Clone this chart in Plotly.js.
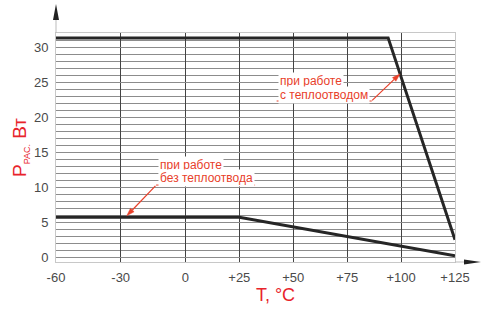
<!DOCTYPE html>
<html>
<head>
<meta charset="utf-8">
<script src="https://cdn.plot.ly/plotly-3.0.1.min.js"></script>
<style>html,body{margin:0;padding:0;background:#fff;}#chart{width:486px;height:311px;}</style>
</head>
<body>
<div id="chart"></div>
<script>
// Data
const tempWithSink = [-60, 94, 125];
const powerWithSink = [31.4, 31.4, 2.5];
const tempNoSink = [-60, 25, 125];
const powerNoSink = [5.7, 5.7, 0.2];
const xTickVals = [-60, -30, 0, 25, 50, 75, 100, 125];
const xTickText = ['-60', '-30', '0', '+25', '+50', '+75', '+100', '+125'];
const yTickVals = [0, 5, 10, 15, 20, 25, 30];
const yTickText = ['0', '5', '10', '15', '20', '25', '30'];
const labelNoSink = ['при работе', 'без теплоотвода'];
const labelWithSink = ['при работе', 'с теплоотводом'];

const RED = '#e8402a';
const TITLE_RED = '#e8232b';
const FONT = 'Liberation Sans, Arial, sans-serif';

const traces = [
  {x: tempWithSink, y: powerWithSink, mode: 'lines', line: {color: '#262626', width: 3}, hoverinfo: 'skip'},
  {x: tempNoSink, y: powerNoSink, mode: 'lines', line: {color: '#262626', width: 3}, hoverinfo: 'skip'}
];

const annFont = {family: FONT, size: 12, color: RED};
const annotations = [
  {xref: 'x', yref: 'y', x: -12.7, y: 13.19, text: labelNoSink[0], showarrow: false, xanchor: 'left', yanchor: 'middle', font: annFont, bgcolor: '#fff', borderpad: 1},
  {xref: 'x', yref: 'y', x: -12.7, y: 11.33, text: labelNoSink[1], showarrow: false, xanchor: 'left', yanchor: 'middle', font: annFont, bgcolor: '#fff', borderpad: 1},
  {xref: 'x', yref: 'y', x: 42.9, y: 25.22, text: labelWithSink[0], showarrow: false, xanchor: 'left', yanchor: 'middle', font: annFont, bgcolor: '#fff', borderpad: 1},
  {xref: 'x', yref: 'y', x: 42.9, y: 23.22, text: labelWithSink[1], showarrow: false, xanchor: 'left', yanchor: 'middle', font: annFont, bgcolor: '#fff', borderpad: 1}
];

const shapes = [
  // underlines
  {type: 'line', xref: 'x', yref: 'y', x0: -13.6, x1: 32.3, y0: 10.32, y1: 10.32, line: {color: RED, width: 1}},
  {type: 'line', xref: 'x', yref: 'y', x0: 42.3, x1: 86.4, y0: 22.36, y1: 22.36, line: {color: RED, width: 1}},
  // leader arrows
  {type: 'line', xref: 'x', yref: 'y', x0: -13.9, y0: 10.2, x1: -24.6, y1: 6.75, line: {color: RED, width: 1.2}},
  {type: 'path', xref: 'x', yref: 'y', path: 'M -27.2 5.92 L -23.79 6.496 L -25.46 6.994 Z', fillcolor: RED, line: {color: RED, width: 0.5}},
  {type: 'line', xref: 'x', yref: 'y', x0: 86.6, y0: 22.45, x1: 96.8, y1: 25.45, line: {color: RED, width: 1.2}},
  {type: 'path', xref: 'x', yref: 'y', path: 'M 99.5 26.23 L 97.57 25.19 L 96.0 25.71 Z', fillcolor: RED, line: {color: RED, width: 0.5}},
  // axis arrows
  {type: 'line', xref: 'paper', yref: 'paper', x0: 0, x1: 0, y0: 1, y1: 1.06, line: {color: '#bbb', width: 1}},
  {type: 'path', xref: 'paper', yref: 'paper', path: 'M 0 1.1266 L -0.0075 1.0568 L 0.0075 1.0568 Z', fillcolor: '#222', line: {width: 0}},
  {type: 'line', xref: 'paper', yref: 'paper', x0: 1, x1: 1.023, y0: 0, y1: 0, line: {color: '#bbb', width: 1}},
  {type: 'path', xref: 'paper', yref: 'paper', path: 'M 1.0652 0 L 1.0226 0.0109 L 1.0226 -0.0109 Z', fillcolor: '#222', line: {width: 0}}
];

const layout = {
  width: 486, height: 311,
  margin: {l: 56, r: 31, t: 33, b: 49, pad: 0},
  paper_bgcolor: '#fff', plot_bgcolor: '#fff',
  showlegend: false,
  xaxis: {
    range: [-60, 125], tickvals: xTickVals, ticktext: xTickText,
    showgrid: true, gridcolor: '#444', gridwidth: 1, zeroline: false,
    showline: true, linecolor: '#c8c8c8', linewidth: 1, mirror: true,
    ticks: '', ticklabelstandoff: 3,
    tickfont: {family: FONT, size: 13, color: '#4a4a4a'},
    title: {text: '&nbsp;&nbsp;&nbsp;&nbsp;&nbsp;&nbsp;&nbsp;&nbsp;T, °C', font: {family: FONT, size: 18, color: TITLE_RED}, standoff: 4}
  },
  yaxis: {
    range: [-0.7, 32.1], tickvals: yTickVals, ticktext: yTickText,
    showgrid: true, gridcolor: '#8c8c8c', gridwidth: 1, zeroline: false,
    minor: {dtick: 1, tick0: 0, showgrid: true, gridcolor: '#8c8c8c', gridwidth: 1},
    showline: true, linecolor: '#c8c8c8', linewidth: 1, mirror: true,
    ticks: '', ticklabelstandoff: 4,
    tickfont: {family: FONT, size: 13, color: '#4a4a4a'},
    title: {text: 'P<sub><span style="font-size:9px">РАС.</span></sub> Вт', font: {family: FONT, size: 19, color: TITLE_RED}, standoff: 2}
  },
  annotations: annotations,
  shapes: shapes
};

Plotly.newPlot('chart', traces, layout, {staticPlot: true, displayModeBar: false});
</script>
</body>
</html>
